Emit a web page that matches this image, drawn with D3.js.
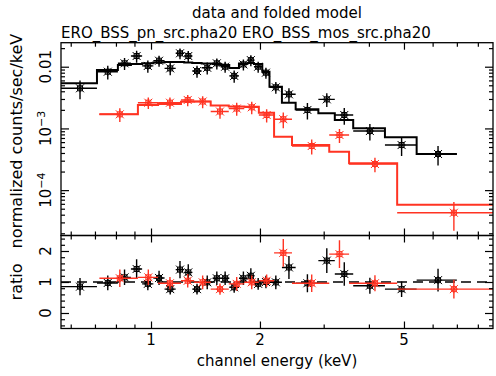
<!DOCTYPE html>
<html>
<head>
<meta charset="utf-8">
<script src="https://cdn.jsdelivr.net/npm/d3@7.9.0/dist/d3.min.js"></script>
<style>
  body { margin: 0; background: #fff; }
  svg { display: block; font-family: 'DejaVu Sans', sans-serif; }
  text { font-size: 15px; fill: #000; }
</style>
</head>
<body>
<svg id="chart" width="496" height="376"></svg>
<script>
// ---- pn spectrum (black) ----
const pnEdges = [0.564, 0.709, 0.81, 0.88, 0.945, 1.015, 1.09, 1.17, 1.235, 1.30, 1.38, 1.48, 1.56,
  1.645, 1.75, 1.85, 1.925, 2.03, 2.125, 2.30, 2.51, 2.90, 3.22, 3.62, 4.43, 5.42, 7.0];
const pnFlux = [0.00447, 0.0083, 0.01135, 0.0149, 0.0103, 0.0125, 0.0094, 0.0165, 0.0149, 0.0085,
  0.0096, 0.01135, 0.0100, 0.0071, 0.0109, 0.0128, 0.0100, 0.0080, 0.00464, 0.00357, 0.00199,
  0.00296, 0.00165, 0.000907, 0.000538, 0.000385];
const pnFluxErr = [0.0015, 0.0021, 0.0025, 0.0033, 0.0023, 0.0025, 0.0021, 0.0033, 0.003, 0.0019,
  0.0021, 0.0023, 0.002, 0.0016, 0.0022, 0.0026, 0.002, 0.0016, 0.001, 0.0009, 0.0006,
  0.00074, 0.0005, 0.00027, 0.00018, 0.000135];
const pnModel = [0.00538, 0.00884, 0.01066, 0.01106, 0.01135, 0.0117, 0.0119, 0.0119, 0.0117, 0.01148,
  0.01127, 0.01106, 0.01066, 0.00953, 0.01127, 0.01148, 0.01106, 0.0083, 0.00474, 0.00261, 0.00204,
  0.00176, 0.00137, 0.001005, 0.000718, 0.000385];
const pnRatio = [0.85, 0.97, 1.15, 1.42, 0.94, 1.13, 0.77, 1.40, 1.31, 0.77, 0.99, 1.12, 1.12, 0.83,
  1.12, 1.20, 0.94, 1.0, 0.99, 1.47, 0.96, 1.69, 1.26, 0.88, 0.77, 1.06];
const pnRatioErr = [0.28, 0.24, 0.25, 0.31, 0.21, 0.23, 0.17, 0.28, 0.26, 0.17, 0.22, 0.22, 0.22, 0.18,
  0.22, 0.24, 0.19, 0.2, 0.22, 0.37, 0.29, 0.4, 0.38, 0.26, 0.25, 0.37];

// ---- mos spectrum (red) ----
const mosEdges = [0.72, 0.92, 1.046, 1.21, 1.316, 1.462, 1.64, 1.81, 1.986, 2.188, 2.452, 3.108,
  3.526, 4.788, 8.95];
const mosFlux = [0.001694, 0.00261, 0.00261, 0.00289, 0.00273, 0.00188, 0.0021, 0.0022, 0.00165,
  0.00141, 0.000519, 0.000782, 0.000265, 0.000043];
const mosFluxErr = [0.00042, 0.00055, 0.00055, 0.0006, 0.0006, 0.00045, 0.0005, 0.0005, 0.0004,
  0.0004, 0.00014, 0.0002, 0.00007, 0.000021];
const mosModel = [0.001694, 0.00239, 0.00248, 0.00271, 0.00273, 0.00235, 0.00226, 0.00225, 0.0018,
  0.000733, 0.000538, 0.000419, 0.000272, 0.000058];
const mosRatio = [1.12, 1.15, 0.96, 1.04, 0.99, 0.77, 0.94, 0.99, 1.04, 1.94, 0.96, 1.90, 0.96, 0.77];
const mosRatioErr = [0.28, 0.25, 0.2, 0.22, 0.22, 0.18, 0.22, 0.22, 0.2, 0.45, 0.28, 0.45, 0.26, 0.3];

// ---- axes ----
const xMajor = [1, 2, 5];
const xMinor = [0.6, 0.7, 0.8, 0.9, 3, 4, 6, 7, 8];
const yMajor = [0.01, 0.001, 0.0001];
const yMinor = [2e-5, 3e-5, 4e-5, 5e-5, 6e-5, 7e-5, 8e-5, 9e-5, 2e-4, 3e-4, 4e-4, 5e-4, 6e-4, 7e-4,
  8e-4, 9e-4, 2e-3, 3e-3, 4e-3, 5e-3, 6e-3, 7e-3, 8e-3, 9e-3, 2e-2];
const ratioMajor = [0, 1, 2];
const ratioMinor = [-0.4, -0.2, 0.2, 0.4, 0.6, 0.8, 1.2, 1.4, 1.6, 1.8, 2.2, 2.4];

const RED = '#ff3322';
const pLeft = 61, pRight = 493, pTop = 42.7, pMid = 235.5, pBottom = 328.5;

const svg = d3.select('#chart');
const x = d3.scaleLog().domain([0.564, 8.81]).range([pLeft, pRight]);
const y = d3.scaleLog().domain([1.84e-5, 0.0245]).range([pMid, pTop]);
const yr = d3.scaleLinear().domain([-0.5, 2.5]).range([pBottom, pMid]);

svg.append('clipPath').attr('id', 'clipTop')
  .append('rect').attr('x', pLeft).attr('y', pTop).attr('width', pRight - pLeft).attr('height', pMid - pTop);
svg.append('clipPath').attr('id', 'clipRatio')
  .append('rect').attr('x', pLeft).attr('y', pMid).attr('width', pRight - pLeft).attr('height', pBottom - pMid);

// ticks pointing inward on all four sides
function drawFrame(yScale, major, minor, y0, y1) {
  const g = svg.append('g');
  const add = (axis, tx, ty) => {
    const a = g.append('g').attr('transform', `translate(${tx},${ty})`).call(axis);
    a.select('.domain').remove();
    a.selectAll('line').attr('stroke', '#000').attr('stroke-width', 1.2);
  };
  add(d3.axisBottom(x).tickValues(xMajor).tickSize(-7).tickFormat(''), 0, y1);
  add(d3.axisBottom(x).tickValues(xMinor).tickSize(-4).tickFormat(''), 0, y1);
  add(d3.axisTop(x).tickValues(xMajor).tickSize(-7).tickFormat(''), 0, y0);
  add(d3.axisTop(x).tickValues(xMinor).tickSize(-4).tickFormat(''), 0, y0);
  add(d3.axisLeft(yScale).tickValues(major).tickSize(-8).tickFormat(''), pLeft, 0);
  add(d3.axisLeft(yScale).tickValues(minor).tickSize(-4).tickFormat(''), pLeft, 0);
  add(d3.axisRight(yScale).tickValues(major).tickSize(-8).tickFormat(''), pRight, 0);
  add(d3.axisRight(yScale).tickValues(minor).tickSize(-4).tickFormat(''), pRight, 0);
  g.append('rect').attr('x', pLeft).attr('y', y0).attr('width', pRight - pLeft).attr('height', y1 - y0)
    .attr('fill', 'none').attr('stroke', '#000').attr('stroke-width', 1.3);
}

function stepPath(edges, model, yScale) {
  const pts = [];
  model.forEach((m, i) => {
    pts.push([x(edges[i]), yScale(m)]);
    pts.push([x(edges[i + 1]), yScale(m)]);
  });
  return d3.line()(pts);
}

const markerPath = 'M-4,-4L4,4M-4,4L4,-4M-4,0L4,0M0,-4L0,4M-2.5,-2.5H2.5V2.5H-2.5Z';

function drawData(edges, vals, errs, yScale, color, clip) {
  const g = svg.append('g').attr('clip-path', `url(#${clip})`);
  const pts = vals.map((v, i) => ({
    lo: edges[i], hi: edges[i + 1], c: (edges[i] + edges[i + 1]) / 2, v, e: errs[i]
  }));
  g.selectAll('line.xe').data(pts).join('line')
    .attr('x1', d => x(d.lo)).attr('x2', d => x(d.hi))
    .attr('y1', d => yScale(d.v)).attr('y2', d => yScale(d.v))
    .attr('stroke', color).attr('stroke-width', 1.4);
  g.selectAll('line.ye').data(pts).join('line')
    .attr('x1', d => x(d.c)).attr('x2', d => x(d.c))
    .attr('y1', d => yScale(Math.max(d.v - d.e, 1e-9))).attr('y2', d => yScale(d.v + d.e))
    .attr('stroke', color).attr('stroke-width', 1.4);
  g.selectAll('path.mk').data(pts).join('path')
    .attr('transform', d => `translate(${x(d.c)},${yScale(d.v)})`)
    .attr('d', markerPath)
    .attr('fill', 'none').attr('stroke', color).attr('stroke-width', 1);
}

// ---- top panel ----
svg.append('path').attr('d', stepPath(pnEdges, pnModel, y)).attr('clip-path', 'url(#clipTop)')
  .attr('fill', 'none').attr('stroke', '#000').attr('stroke-width', 2);
svg.append('path').attr('d', stepPath(mosEdges, mosModel, y)).attr('clip-path', 'url(#clipTop)')
  .attr('fill', 'none').attr('stroke', RED).attr('stroke-width', 2);
drawData(pnEdges, pnFlux, pnFluxErr, y, '#000', 'clipTop');
drawData(mosEdges, mosFlux, mosFluxErr, y, RED, 'clipTop');

// ---- ratio panel ----
svg.append('line').attr('x1', pLeft).attr('x2', pRight).attr('y1', yr(1)).attr('y2', yr(1))
  .attr('stroke', '#000').attr('stroke-width', 1.4).attr('stroke-dasharray', '10,6');
drawData(pnEdges, pnRatio, pnRatioErr, yr, '#000', 'clipRatio');
drawData(mosEdges, mosRatio, mosRatioErr, yr, RED, 'clipRatio');

drawFrame(y, yMajor, yMinor, pTop, pMid);
drawFrame(yr, ratioMajor, ratioMinor, pMid, pBottom);

// ---- labels ----
const rotLabel = (tx, ty) => svg.append('text')
  .attr('transform', `translate(${tx},${ty}) rotate(-90)`).attr('text-anchor', 'middle');

yMajor.forEach(v => {
  const t = rotLabel(51, y(v));
  if (v === 0.01) t.text('0.01');
  else {
    t.append('tspan').text('10');
    t.append('tspan').attr('dy', -6).style('font-size', '11px').text('\u2212' + (-Math.log10(v)).toFixed(0));
  }
});
ratioMajor.forEach(v => rotLabel(51, yr(v)).text(v));

xMajor.forEach(v => svg.append('text').attr('x', x(v)).attr('y', 345)
  .attr('text-anchor', 'middle').text(v));

svg.append('text').attr('x', (pLeft + pRight) / 2).attr('y', 366).attr('text-anchor', 'middle')
  .text('channel energy (keV)');
rotLabel(22, (pTop + pMid) / 2 + 2).style('font-size', '16px').text('normalized counts/sec/keV');
rotLabel(22, (pMid + pBottom) / 2).style('font-size', '16px').text('ratio');
svg.append('text').attr('x', (pLeft + pRight) / 2).attr('y', 18).attr('text-anchor', 'middle')
  .text('data and folded model');
svg.append('text').attr('x', pLeft).attr('y', 37.5).text('ERO_BSS_pn_src.pha20 ERO_BSS_mos_src.pha20');
</script>
</body>
</html>
